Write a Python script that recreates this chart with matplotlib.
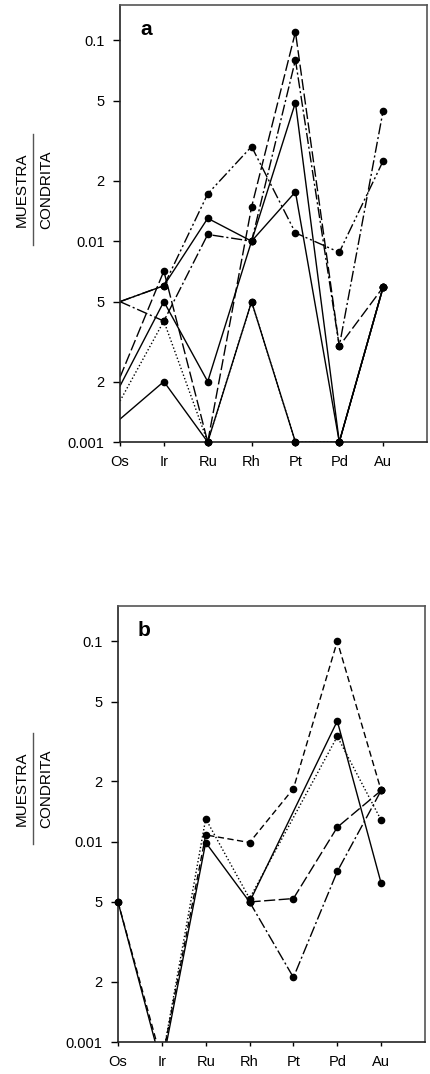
import numpy as np
import matplotlib
matplotlib.use("Agg")
import matplotlib.pyplot as plt
from matplotlib.lines import Line2D

plt.rcParams["font.family"] = ["Liberation Sans", "DejaVu Sans"]

W, H = 430, 1074

elements = ["Os", "Ir", "Ru", "Rh", "Pt", "Pd", "Au"]
ytick_vals = [0.001, 0.002, 0.005, 0.01, 0.02, 0.05, 0.1]
ytick_labels_a = ["0.001", "2", "5", "0.01", "2", "5", "0.1"]
ytick_labels_b = ["0.001", "2", "5", "0.01", "2", "5", "0.1"]

# panel a: normalised values (sample / chondrite)
a_s1 = [0.0013, 0.0020, 0.0010, 0.0050, 0.0010, 0.0010, 0.0059]
a_s2 = [0.0016, 0.0040, 0.0010, 0.0050, 0.0010, 0.0010, 0.0059]
a_s3 = [0.0019, 0.0050, 0.0020, 0.0100, 0.0490, 0.0010, 0.0059]
a_s4 = [0.0021, 0.0071, 0.0010, 0.0148, 0.1100, 0.0030, 0.0059]
a_s5 = [0.0050, 0.0040, 0.0108, 0.0100, 0.0800, 0.0030, 0.0447]
a_s6 = [0.0050, 0.0060, 0.0130, 0.0100, 0.0176, 0.0010, 0.0059]
a_s7 = [0.0050, 0.0060, 0.0172, 0.0296, 0.0110, 0.0088, 0.0251]

# panel b (nan = not determined; Ir below the plotted range)
b_s1 = [0.0050, 0.00075, 0.0099, 0.0050, np.nan, 0.0400, 0.0062]
b_s2 = [0.0050, 0.00080, 0.0108, 0.0099, 0.0184, 0.1000, 0.0180]
b_s3 = [np.nan, 0.00080, 0.0130, 0.0052, np.nan, 0.0335, 0.0128]
b_s4 = [np.nan, np.nan, np.nan, 0.0050, 0.0052, 0.0118, 0.0180]
b_s5 = [np.nan, np.nan, np.nan, 0.0050, 0.0021, 0.0071, 0.0180]

SOLID = "-"
DOTTED = (0, (1.0, 1.6))
DASHED = (0, (4.5, 2.5))
LONGDASH = (0, (8, 2.5))
DASHDOT = (0, (8, 2, 1.5, 2))
DASHDOTDOT = (0, (8, 2, 1.5, 2, 1.5, 2))

series_a = [
    (a_s1, SOLID), (a_s2, DOTTED), (a_s3, SOLID), (a_s4, LONGDASH),
    (a_s5, DASHDOT), (a_s6, SOLID), (a_s7, DASHDOTDOT),
]
series_b = [
    (b_s1, SOLID), (b_s2, DASHED), (b_s3, DOTTED), (b_s4, LONGDASH),
    (b_s5, DASHDOT),
]

YMIN, YMAX = 0.001, 0.15


def px_axes(fig, left, top, right, bottom):
    return fig.add_axes([left / W, 1 - bottom / H, (right - left) / W, (bottom - top) / H])


def draw_panel(ax, series, tick_labels, letter, mark_os):
    x = np.arange(len(elements))
    for vals, ls in series:
        v = np.array(vals, dtype=float)
        ok = ~np.isnan(v)
        ax.plot(x[ok], v[ok], color="black", lw=1.0, ls=ls)
        # dots only for points inside the plotted range
        dots = ok & (v >= YMIN * 0.999)
        if not mark_os:
            dots[0] = False
        ax.plot(x[dots], v[dots], ls="none", marker="o", ms=4.5,
                mfc="black", mec="black", clip_on=False, zorder=4)
    ax.set_yscale("log")
    ax.set_ylim(YMIN, YMAX)
    ax.set_xlim(0, 7)
    ax.set_yticks(ytick_vals)
    ax.set_yticklabels(tick_labels)
    ax.minorticks_off()
    ax.set_xticks(x)
    ax.set_xticklabels(elements)
    ax.tick_params(axis="y", length=5, width=1.0, pad=6, labelsize=10.5)
    ax.tick_params(axis="x", length=3, width=1.0, pad=6, labelsize=10.5)
    for side, sp in ax.spines.items():
        sp.set_linewidth(1.2)
        sp.set_color("#222222" if side in ("left", "bottom") else "#555555")
    ax.text(0.065, 0.943, letter, transform=ax.transAxes, fontsize=15,
            fontweight="bold", ha="left", va="center")


def fraction_label(fig, yc):
    # "MUESTRA / CONDRITA" written as a vertical fraction
    fig.text(22 / W, 1 - yc / H, "MUESTRA", rotation=90, ha="center",
             va="center", fontsize=11)
    fig.text(46 / W, 1 - yc / H, "CONDRITA", rotation=90, ha="center",
             va="center", fontsize=11)
    fig.add_artist(Line2D([33 / W, 33 / W], [1 - (yc + 55) / H, 1 - (yc - 56) / H],
                          transform=fig.transFigure, color="#555555", lw=1.0))


fig = plt.figure(figsize=(W / 100, H / 100), dpi=100)

ax_a = px_axes(fig, 120, 5, 427, 442)
draw_panel(ax_a, series_a, ytick_labels_a, "a", mark_os=False)
fraction_label(fig, 190)

ax_b = px_axes(fig, 118, 606, 425, 1042)
draw_panel(ax_b, series_b, ytick_labels_b, "b", mark_os=True)
fraction_label(fig, 789)

fig.savefig("out.png", dpi=100)
